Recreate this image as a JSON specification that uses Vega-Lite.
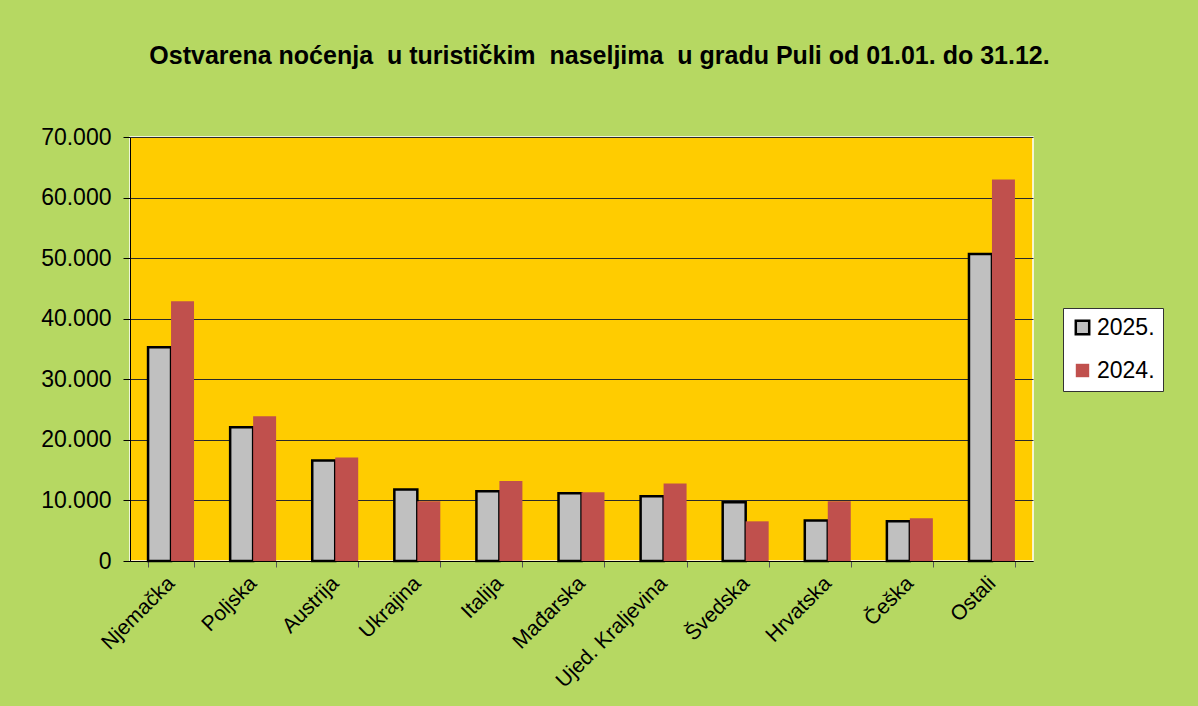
{
  "$schema": "https://vega.github.io/schema/vega-lite/v6.json",
  "autosize": {"type": "none"},
  "width": 903,
  "height": 424,
  "padding": {"left": 130, "top": 137, "right": 165, "bottom": 145},
  "background": "#b6d862",
  "title": {
    "text": "Ostvarena noćenja\u00a0 u turističkim\u00a0 naseljima\u00a0 u gradu Puli od 01.01. do 31.12.",
    "font": "Liberation Sans",
    "fontSize": 25,
    "fontWeight": "bold",
    "color": "#000000",
    "anchor": "middle",
    "dx": 18,
    "offset": 57
  },
  "data": {
    "values": [
      {"zemlja": "Njemačka", "godina": "2025.", "nocenja": 35300},
      {"zemlja": "Njemačka", "godina": "2024.", "nocenja": 42900},
      {"zemlja": "Poljska", "godina": "2025.", "nocenja": 22100},
      {"zemlja": "Poljska", "godina": "2024.", "nocenja": 23900},
      {"zemlja": "Austrija", "godina": "2025.", "nocenja": 16600},
      {"zemlja": "Austrija", "godina": "2024.", "nocenja": 17100},
      {"zemlja": "Ukrajina", "godina": "2025.", "nocenja": 11800},
      {"zemlja": "Ukrajina", "godina": "2024.", "nocenja": 9850},
      {"zemlja": "Italija", "godina": "2025.", "nocenja": 11500},
      {"zemlja": "Italija", "godina": "2024.", "nocenja": 13200},
      {"zemlja": "Mađarska", "godina": "2025.", "nocenja": 11200},
      {"zemlja": "Mađarska", "godina": "2024.", "nocenja": 11350},
      {"zemlja": "Ujed. Kraljevina", "godina": "2025.", "nocenja": 10700},
      {"zemlja": "Ujed. Kraljevina", "godina": "2024.", "nocenja": 12800},
      {"zemlja": "Švedska", "godina": "2025.", "nocenja": 9700},
      {"zemlja": "Švedska", "godina": "2024.", "nocenja": 6550},
      {"zemlja": "Hrvatska", "godina": "2025.", "nocenja": 6700},
      {"zemlja": "Hrvatska", "godina": "2024.", "nocenja": 9850},
      {"zemlja": "Češka", "godina": "2025.", "nocenja": 6550},
      {"zemlja": "Češka", "godina": "2024.", "nocenja": 7050},
      {"zemlja": "Ostali", "godina": "2025.", "nocenja": 50700},
      {"zemlja": "Ostali", "godina": "2024.", "nocenja": 63000}
    ]
  },
  "mark": {"type": "bar", "strokeWidth": 2.5},
  "encoding": {
    "x": {
      "field": "zemlja",
      "type": "nominal",
      "sort": null,
      "scale": {"paddingInner": 0.44, "paddingOuter": 0.22},
      "axis": {
        "title": null,
        "labelAngle": -45,
        "labelAlign": "right",
        "labelBaseline": "middle",
        "labelFont": "Liberation Sans",
        "labelFontSize": 21,
        "labelColor": "#000000",
        "labelPadding": 13,
        "tickBand": "extent",
        "tickColor": "#555555",
        "tickSize": 6,
        "domainColor": "#000000",
        "domainWidth": 1,
        "grid": false
      }
    },
    "xOffset": {
      "field": "godina",
      "type": "nominal",
      "sort": ["2025.", "2024."],
      "scale": {"paddingInner": 0, "paddingOuter": 0}
    },
    "y": {
      "field": "nocenja",
      "type": "quantitative",
      "scale": {"domain": [0, 70000], "nice": false},
      "axis": {
        "title": null,
        "values": [0, 10000, 20000, 30000, 40000, 50000, 60000, 70000],
        "labelExpr": "replace(format(datum.value, ','), ',', '.')",
        "labelFont": "Liberation Sans",
        "labelFontSize": 23,
        "labelColor": "#000000",
        "labelPadding": 12,
        "tickColor": "#000000",
        "tickSize": 7,
        "domainColor": "#000000",
        "domainWidth": 1,
        "grid": true,
        "gridColor": "#2a2a2a",
        "gridWidth": 1,
        "gridOpacity": 1
      }
    },
    "color": {
      "field": "godina",
      "type": "nominal",
      "sort": ["2025.", "2024."],
      "scale": {"domain": ["2025.", "2024."], "range": ["#c0c0c0", "#c0504d"]},
      "legend": {
        "title": null,
        "orient": "none",
        "legendX": 933,
        "legendY": 171,
        "fillColor": "#ffffff",
        "strokeColor": "#333333",
        "padding": 8,
        "symbolType": "square",
        "symbolSize": 180,
        "symbolStrokeWidth": 2.5,
        "labelFont": "Liberation Sans",
        "labelFontSize": 23,
        "labelColor": "#000000",
        "labelOffset": 3,
        "rowPadding": 18
      }
    },
    "stroke": {
      "field": "godina",
      "type": "nominal",
      "sort": ["2025.", "2024."],
      "scale": {"domain": ["2025.", "2024."], "range": ["#000000", "transparent"]},
      "legend": {
        "title": null,
        "orient": "none",
        "legendX": 933,
        "legendY": 171,
        "fillColor": "#ffffff",
        "strokeColor": "#333333",
        "padding": 8,
        "symbolType": "square",
        "symbolSize": 180,
        "symbolStrokeWidth": 2.5,
        "labelFont": "Liberation Sans",
        "labelFontSize": 23,
        "labelColor": "#000000",
        "labelOffset": 3,
        "rowPadding": 18
      }
    }
  },
  "config": {
    "view": {"fill": "#ffcc00", "stroke": "#ffffff", "strokeWidth": 1.5}
  }
}
